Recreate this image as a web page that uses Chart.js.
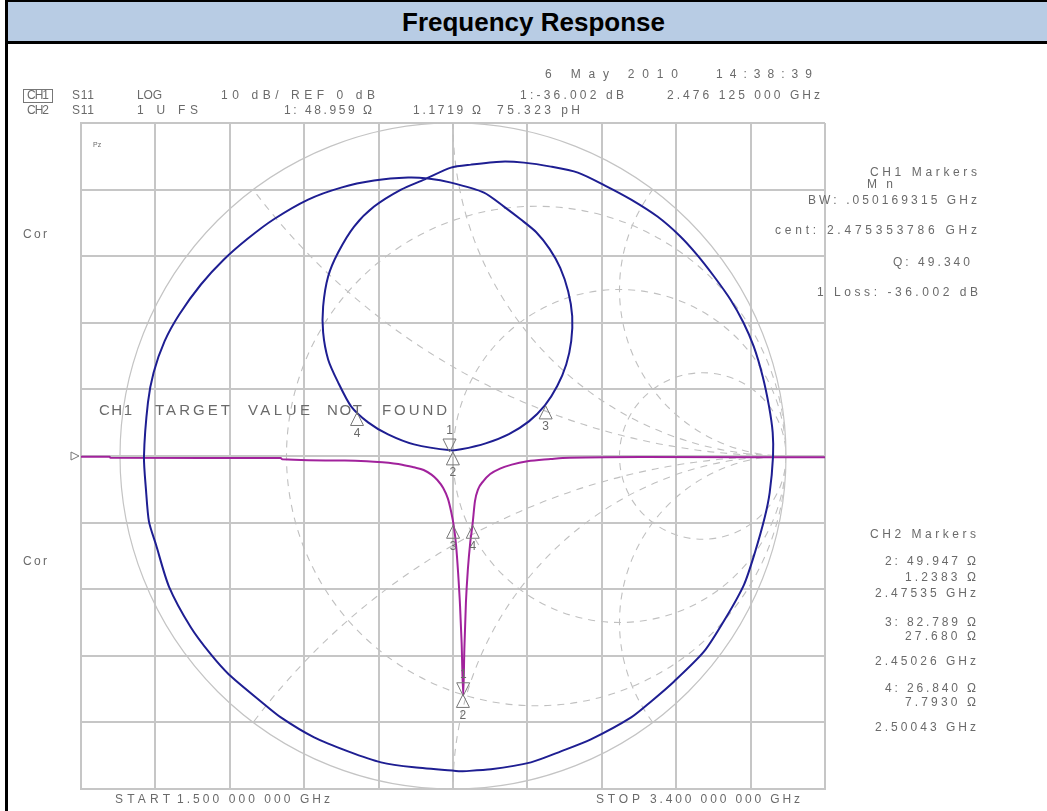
<!DOCTYPE html>
<html>
<head>
<meta charset="utf-8">
<title>Frequency Response</title>
<script src="https://cdn.jsdelivr.net/npm/chart.js@4.4.1/dist/chart.umd.min.js"></script>
<style>
  body { margin: 0; background: #fff; }
  #page { position: relative; width: 1047px; height: 811px; overflow: hidden; background: #fff; }
  #chart { position: absolute; left: 0; top: 0; }
  #leftrule { position: absolute; left: 5px; top: 0; width: 3px; height: 811px; background: #000; }
  #header {
    position: absolute; left: 5px; top: 0; width: 1027px; height: 39px; padding-left: 12px;
    background: #b8cce4; border-top: 2px solid #000; border-left: 3px solid #000; border-bottom: 3px solid #000;
    font: bold 26px "Liberation Sans", Arial, sans-serif; text-align: center; line-height: 40px; color: #000;
  }
</style>
</head>
<body>
<div id="page">
  <canvas id="chart" width="1047" height="811"></canvas>
  <div id="leftrule"></div>
  <div id="header">Frequency Response</div>
</div>
<script>
// CH1  S11  LOG  10 dB/ REF 0 dB  (start 1.5 GHz, stop 3.4 GHz)
var freqGHz = [1.500, 1.573, 1.575, 2.010, 2.014, 2.200, 2.270, 2.320, 2.350, 2.375, 2.395, 2.410,
               2.425, 2.437, 2.445, 2.452, 2.458, 2.463, 2.468, 2.472, 2.476125, 2.479, 2.483, 2.488,
               2.494, 2.500, 2.506, 2.514, 2.527, 2.545, 2.570, 2.600, 2.640, 2.700, 2.730, 2.930, 3.400];
var magDb = [-0.1, -0.1, -0.25, -0.3, -0.5, -0.7, -0.95, -1.3, -1.7, -2.1, -2.8, -3.6,
             -4.8, -6.4, -8.3, -10.5, -13.5, -17.5, -22.5, -28, -36.002, -29, -22, -17,
             -13, -10.2, -6.8, -5.0, -3.8, -2.7, -1.9, -1.3, -0.8, -0.45, -0.3, -0.15, -0.2];
var freqTicks = [1.5, 1.69, 1.88, 2.07, 2.26, 2.45, 2.64, 2.83, 3.02, 3.21, 3.4];
var dbTicks = [-50, -40, -30, -20, -10, 0, 10, 20, 30, 40, 50];

// CH2  S11  1 U FS  (reflection coefficient, real and imaginary part)
var gammaRe = [0.024, -0.117, -0.216, -0.315, -0.417, -0.517, -0.577, -0.673, -0.727, -0.787, -0.853, -0.892,
               -0.913, -0.922, -0.928, -0.916, -0.899, -0.866, -0.822, -0.757, -0.688, -0.616, -0.538, -0.435,
               -0.336, -0.237, -0.135, -0.075, -0.006, 0.093, 0.153, 0.204, 0.250, 0.290, 0.322, 0.346,
               0.358, 0.355, 0.340, 0.313, 0.276, 0.228, 0.168, 0.098, 0.024, -0.006, -0.117, -0.195,
               -0.255, -0.306, -0.345, -0.375, -0.390, -0.390, -0.375, -0.345, -0.297, -0.237, -0.156, -0.087,
               -0.006, 0.054, 0.144, 0.213, 0.294, 0.375, 0.455, 0.535, 0.614, 0.682, 0.733, 0.784,
               0.833, 0.872, 0.903, 0.930, 0.949, 0.960, 0.961, 0.951, 0.936, 0.906, 0.874, 0.818,
               0.754, 0.664, 0.595, 0.535, 0.414, 0.324, 0.234, 0.114, 0.024];
var gammaIm = [-0.947, -0.935, -0.920, -0.887, -0.845, -0.785, -0.737, -0.656, -0.596, -0.515, -0.392, -0.266,
               -0.197, -0.101, -0.002, 0.161, 0.251, 0.345, 0.425, 0.515, 0.590, 0.653, 0.711, 0.770,
               0.806, 0.827, 0.836, 0.833, 0.821, 0.791, 0.749, 0.710, 0.672, 0.622, 0.565, 0.494,
               0.420, 0.345, 0.275, 0.210, 0.152, 0.104, 0.066, 0.038, 0.020, 0.017, 0.035, 0.065,
               0.101, 0.149, 0.221, 0.290, 0.371, 0.449, 0.539, 0.611, 0.689, 0.749, 0.800, 0.830,
               0.866, 0.875, 0.884, 0.881, 0.869, 0.851, 0.813, 0.770, 0.719, 0.660, 0.604, 0.539,
               0.470, 0.401, 0.329, 0.239, 0.149, 0.071, -0.002, -0.110, -0.185, -0.292, -0.386, -0.488,
               -0.587, -0.677, -0.737, -0.785, -0.851, -0.887, -0.920, -0.941, -0.947];

// marker readouts
var markerNames = ["1", "2", "3", "4"];
var ch1MarkerFreq = [2.476125, 2.47535, 2.45026, 2.50043];
var ch1MarkerDb = [-36.002, -35.8, -10.4, -10.4];
var ch2MarkerR = [48.959, 49.947, 82.789, 26.840];
var ch2MarkerX = [1.1719, 1.2383, 27.680, 7.7930];
var z0 = 50;

// smith chart graticule
var smithRCircles = [1 / 3, 1, 3];
var smithXArcs = [0.5, 1, 2, -0.5, -1, -2];

var gridColor = "#c6c6c6";
var textColor = "#6a6a6a";
var textFont = '"Liberation Sans", Arial, sans-serif';

// gamma of each CH2 marker from its impedance readout
function gammaOf(r, x) {
  var nr = r - z0, dr = r + z0;
  var den = dr * dr + x * x;
  return { x: (nr * dr + x * x) / den, y: (x * dr - nr * x) / den };
}

function spread(ctx, str, x1, x2, y, size) {
  ctx.font = size + "px " + textFont;
  ctx.letterSpacing = "0px";
  var w = ctx.measureText(str).width;
  var extra = str.length > 1 ? ((x2 - x1) - w) / (str.length - 1) : 0;
  ctx.letterSpacing = extra + "px";
  ctx.textAlign = "left";
  ctx.textBaseline = "middle";
  ctx.fillText(str, x1, y);
  ctx.letterSpacing = "0px";
}

function triangle(ctx, x, y, down, label) {
  var h = 13, hw = 6.5;
  var s = down ? -1 : 1;
  ctx.beginPath();
  ctx.moveTo(x, y);
  ctx.lineTo(x - hw, y + s * h);
  ctx.lineTo(x + hw, y + s * h);
  ctx.closePath();
  ctx.stroke();
  ctx.font = "12px " + textFont;
  ctx.textAlign = "center";
  ctx.textBaseline = "middle";
  ctx.fillText(label, x, y + s * 21);
}

var analyzerPlugin = {
  id: "analyzer",
  beforeDatasetsDraw: function (chart) {
    var ctx = chart.ctx;
    var gx = chart.scales.gx, gy = chart.scales.gy;
    var cx = gx.getPixelForValue(0), cy = gy.getPixelForValue(0);
    var unit = gx.getPixelForValue(1) - cx;
    var area = chart.chartArea;
    ctx.save();
    ctx.beginPath();
    ctx.rect(area.left, area.top, area.right - area.left, area.bottom - area.top);
    ctx.clip();
    ctx.strokeStyle = "#c4c4c4";
    ctx.lineWidth = 1.2;
    ctx.beginPath();
    ctx.arc(cx, cy, unit, 0, Math.PI * 2);
    ctx.stroke();
    ctx.beginPath();
    ctx.arc(cx, cy, unit - 0.5, 0, Math.PI * 2);
    ctx.clip();
    ctx.setLineDash([7, 6]);
    ctx.strokeStyle = "#c0c0c0";
    ctx.lineWidth = 1.1;
    smithRCircles.forEach(function (r) {
      ctx.beginPath();
      ctx.arc(gx.getPixelForValue(r / (1 + r)), cy, unit / (1 + r), 0, Math.PI * 2);
      ctx.stroke();
    });
    smithXArcs.forEach(function (x) {
      ctx.beginPath();
      ctx.arc(gx.getPixelForValue(1), gy.getPixelForValue(1 / x), unit / Math.abs(x), 0, Math.PI * 2);
      ctx.stroke();
    });
    ctx.restore();
  },
  afterDatasetsDraw: function (chart) {
    var ctx = chart.ctx;
    var xs = chart.scales.x, ys = chart.scales.y;
    var gx = chart.scales.gx, gy = chart.scales.gy;
    ctx.save();
    ctx.strokeStyle = "#777";
    ctx.fillStyle = textColor;
    ctx.lineWidth = 1;
    markerNames.forEach(function (name, i) {
      triangle(ctx, xs.getPixelForValue(ch1MarkerFreq[i]), ys.getPixelForValue(ch1MarkerDb[i]), i === 0, name);
      var g = gammaOf(ch2MarkerR[i], ch2MarkerX[i]);
      triangle(ctx, gx.getPixelForValue(g.x), gy.getPixelForValue(g.y), i === 0, name);
    });
    // reference position arrow
    var ry = ys.getPixelForValue(0);
    var rx = chart.chartArea.left - 2;
    ctx.beginPath();
    ctx.moveTo(rx, ry);
    ctx.lineTo(rx - 8, ry - 4);
    ctx.lineTo(rx - 8, ry + 4);
    ctx.closePath();
    ctx.stroke();
    ctx.restore();
  },
  afterDraw: function (chart) {
    var ctx = chart.ctx;
    ctx.save();
    ctx.fillStyle = textColor;
    var items = [
      ["6 May 2010", 545, 678, 75, 12], ["14:38:39", 716, 812, 75, 12],
      ["CH1", 27, 49, 96, 12], ["S11", 72, 94, 96, 12], ["LOG", 137, 162, 96, 12],
      ["10 dB/ REF 0 dB", 221, 375, 96, 12], ["1:-36.002 dB", 520, 624, 96, 12],
      ["2.476 125 000 GHz", 667, 820, 96, 12],
      ["CH2", 27, 49, 111, 12], ["S11", 72, 94, 111, 12], ["1 U FS", 137, 198, 111, 12],
      ["1: 48.959 \u03a9", 284, 372, 111, 12], ["1.1719 \u03a9", 413, 481, 111, 12],
      ["75.323 pH", 497, 580, 111, 12],
      ["CH1 Markers", 870, 977, 173, 12], ["Mn", 867, 893, 185, 12],
      ["BW: .050169315 GHz", 808, 977, 201, 12], ["cent: 2.475353786 GHz", 775, 977, 231, 12],
      ["Q: 49.340", 893, 970, 263, 12], ["1 Loss: -36.002 dB", 817, 978, 293, 12],
      ["CH2 Markers", 870, 976, 535, 12],
      ["2: 49.947 \u03a9", 885, 976, 562, 12], ["1.2383 \u03a9", 905, 976, 578, 12], ["2.47535 GHz", 875, 976, 594, 12],
      ["3: 82.789 \u03a9", 885, 976, 623, 12], ["27.680 \u03a9", 905, 976, 637, 12], ["2.45026 GHz", 875, 976, 662, 12],
      ["4: 26.840 \u03a9", 885, 976, 689, 12], ["7.7930 \u03a9", 905, 976, 703, 12], ["2.50043 GHz", 875, 976, 728, 12],
      ["Cor", 23, 47, 235, 12], ["Cor", 23, 47, 562, 12],
      ["CH1", 99, 132, 411, 15], ["TARGET", 155, 230, 411, 15], ["VALUE", 248, 310, 411, 15],
      ["NOT", 327, 362, 411, 15], ["FOUND", 382, 447, 411, 15],
      ["START", 115, 170, 800, 12], ["1.500 000 000 GHz", 177, 330, 800, 12],
      ["STOP", 596, 640, 800, 12], ["3.400 000 000 GHz", 650, 800, 800, 12]
    ];
    items.forEach(function (t) { spread(ctx, t[0], t[1], t[2], t[3], t[4]); });
    ctx.font = "7px " + textFont;
    ctx.textAlign = "left";
    ctx.fillText("Pz", 93, 145);
    ctx.strokeStyle = "#777";
    ctx.lineWidth = 1;
    ctx.strokeRect(23.5, 89.5, 29, 13);
    ctx.restore();
  }
};

var ch1Points = freqGHz.map(function (f, i) { return { x: f, y: magDb[i] }; });
var ch2Points = gammaRe.map(function (re, i) { return { x: re, y: gammaIm[i] }; });

function fixedTicks(values) {
  return function (scale) {
    scale.ticks = values.map(function (v) { return { value: v }; });
  };
}

new Chart(document.getElementById("chart"), {
  type: "scatter",
  data: {
    datasets: [
      {
        label: "CH2 S11",
        data: ch2Points,
        xAxisID: "gx",
        yAxisID: "gy",
        showLine: true,
        borderColor: "#1e1e92",
        borderWidth: 2,
        pointRadius: 0,
        tension: 0.25
      },
      {
        label: "CH1 S11",
        data: ch1Points,
        xAxisID: "x",
        yAxisID: "y",
        showLine: true,
        borderColor: "#a1229c",
        borderWidth: 2,
        pointRadius: 0,
        cubicInterpolationMode: "monotone"
      }
    ]
  },
  options: {
    responsive: false,
    animation: false,
    devicePixelRatio: 1,
    layout: { padding: { left: 81, top: 123, right: 222, bottom: 22 } },
    plugins: { legend: { display: false }, tooltip: { enabled: false } },
    scales: {
      x: {
        type: "linear", min: 1.5, max: 3.4,
        afterBuildTicks: fixedTicks(freqTicks),
        ticks: { display: false },
        grid: { color: gridColor, lineWidth: 2, drawTicks: false },
        border: { display: true, color: gridColor, width: 2 }
      },
      y: {
        type: "linear", min: -50, max: 50,
        afterBuildTicks: fixedTicks(dbTicks),
        ticks: { display: false },
        grid: { color: gridColor, lineWidth: 2, drawTicks: false },
        border: { display: true, color: gridColor, width: 2 }
      },
      gx: { type: "linear", axis: "x", display: false, min: -1.1171, max: 1.1171 },
      gy: { type: "linear", axis: "y", display: false, min: -1, max: 1 }
    }
  },
  plugins: [analyzerPlugin]
});
</script>
</body>
</html>
